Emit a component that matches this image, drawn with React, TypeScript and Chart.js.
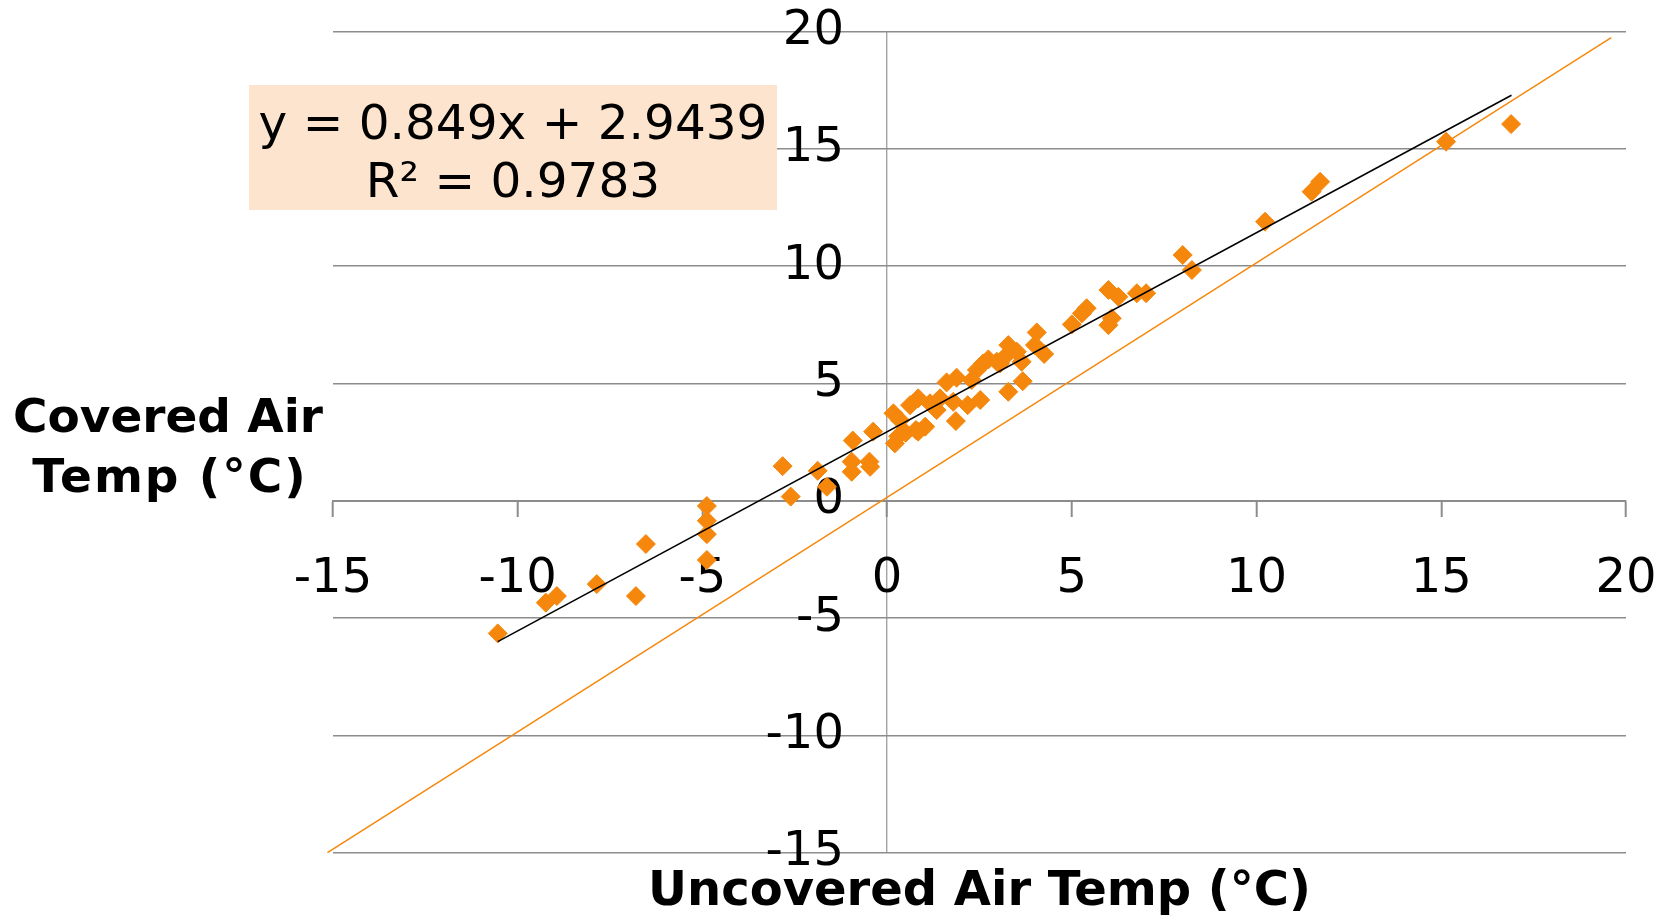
import React, { useEffect, useRef } from 'react';
import { Chart, registerables } from 'chart.js';

Chart.register(...registerables);

// ---- data ----
const uncoveredTemp = [
  -10.54, -9.24, -8.94, -7.86, -6.8, -6.53, -4.88, -4.88, -4.88, -4.88,
  -2.83, -2.61, -1.88, -1.63, -0.93, -0.96, -0.96, -0.38, -0.48, -0.46,
  0.17, 0.21, 0.35, 0.3, 0.62, 0.84, 0.5, 0.78, 1.03, 1.16,
  1.34, 1.43, 1.61, 1.88, 1.86, 1.79, 2.18, 2.52, 2.29, 2.43,
  2.6, 2.74, 2.97, 3.19, 3.28, 3.51, 3.64, 3.28, 3.67, 4.05,
  4.0, 4.25, 5.0, 5.27, 5.4, 5.99, 6.26, 5.99, 6.08, 6.76,
  7.01, 8.0, 8.25, 10.23, 11.49, 11.72, 15.13, 16.89, 3.06, 0.84,
];
const coveredTemp = [
  -5.65, -4.34, -4.06, -3.55, -4.06, -1.84, -0.22, -0.85, -1.42, -2.52,
  1.48, 0.18, 1.28, 0.6, 2.57, 1.67, 1.24, 2.95, 1.67, 1.45,
  3.73, 2.45, 3.44, 2.75, 4.08, 4.37, 2.9, 3.02, 3.16, 4.16,
  3.87, 4.37, 5.05, 5.25, 3.4, 4.22, 4.08, 4.3, 5.15, 5.58,
  5.86, 6.03, 5.93, 6.14, 6.64, 6.36, 5.93, 4.65, 5.1, 7.18,
  6.64, 6.26, 7.52, 7.99, 8.21, 8.99, 8.7, 7.49, 7.78, 8.85,
  8.85, 10.48, 9.84, 11.9, 13.18, 13.6, 15.31, 16.06, 5.86, 2.95,
];
const trendX = [-10.54, 16.9];
const trendY = [-6.0, 17.29];
const oneToOneX = [-15.15, 19.6];
const oneToOneY = [-15, 19.75];
const axisMin = -15;
const axisMax = 20;
const axisStep = 5;
const equationLines = ['y = 0.849x + 2.9439', 'R² = 0.9783'];
const xTitle = 'Uncovered Air Temp (°C)';
const yTitleLines = ['Covered Air', 'Temp (°C)'];

const ORANGE = '#f5870c';
const GRID = '#8c8c8c';
const AXIS_V = '#a3a3a3';
const BOX = '#fce4ce';
const FONT = '"DejaVu Sans", Verdana, sans-serif';

const zeroPad = (scale: any) => {
  scale.paddingLeft = 0;
  scale.paddingRight = 0;
  scale.paddingTop = 0;
  scale.paddingBottom = 0;
};

const textPlugin = {
  id: 'textPlugin',
  afterDraw(chart: any) {
    const { ctx, chartArea } = chart;
    ctx.save();
    // regression equation box
    ctx.fillStyle = BOX;
    ctx.fillRect(249, 85, 528, 125);
    ctx.fillStyle = '#000';
    ctx.textAlign = 'center';
    ctx.textBaseline = 'alphabetic';
    ctx.font = `48.5px ${FONT}`;
    ctx.fillText(equationLines[0], 513, 138.5);
    ctx.fillText(equationLines[1], 513, 196.7);
    // axis titles
    ctx.font = `bold 48px ${FONT}`;
    ctx.fillText(xTitle, (chartArea.left + chartArea.right) / 2, chartArea.bottom + 52.5);
    ctx.font = `bold 47px ${FONT}`;
    ctx.fillText(yTitleLines[0], 168, 431.7);
    (ctx as any).letterSpacing = '2px';
    ctx.fillText(yTitleLines[1], 170, 491.7);
    ctx.restore();
  },
};

export default function App() {
  const ref = useRef<HTMLCanvasElement>(null);
  useEffect(() => {
    if (!ref.current) return;
    const tickFont = { family: FONT, size: 48 };
    const chart = new Chart(ref.current, {
      type: 'scatter',
      data: {
        datasets: [
          {
            label: 'Trendline',
            data: trendX.map((x, i) => ({ x, y: trendY[i] })),
            showLine: true,
            borderColor: '#000',
            borderWidth: 1.6,
            pointRadius: 0,
            order: 0,
          },
          {
            label: '1:1',
            data: oneToOneX.map((x, i) => ({ x, y: oneToOneY[i] })),
            showLine: true,
            borderColor: ORANGE,
            borderWidth: 1.5,
            pointRadius: 0,
            clip: false,
            order: 1,
          },
          {
            label: 'Air temp',
            data: uncoveredTemp.map((x, i) => ({ x, y: coveredTemp[i] })),
            pointStyle: 'rectRot',
            pointRadius: 9.5,
            backgroundColor: ORANGE,
            borderColor: ORANGE,
            borderWidth: 1,
            order: 2,
          },
        ],
      } as any,
      options: {
        animation: false,
        responsive: true,
        maintainAspectRatio: false,
        events: [],
        layout: { padding: { left: 333, top: 31.7, right: 44, bottom: 63.3 } },
        plugins: { legend: { display: false }, tooltip: { enabled: false } },
        scales: {
          x: {
            type: 'linear',
            position: { y: 0 } as any,
            min: axisMin,
            max: axisMax,
            ticks: { stepSize: axisStep, font: tickFont, color: '#000', padding: 35, maxRotation: 0, autoSkip: false },
            grid: {
              drawOnChartArea: true,
              color: (c: any) => (c.tick && c.tick.value === 0 ? AXIS_V : 'rgba(0,0,0,0)'),
              lineWidth: 1.4,
              drawTicks: true,
              tickLength: 15,
              tickColor: GRID,
              tickWidth: 2,
            },
            border: { display: true, color: GRID, width: 2 },
            afterFit: zeroPad,
          },
          y: {
            type: 'linear',
            // labels sit just left of the vertical axis at x = 0
            position: { x: -1.17 } as any,
            min: axisMin,
            max: axisMax,
            ticks: { stepSize: axisStep, font: tickFont, color: '#000', padding: 0, autoSkip: false },
            grid: { color: GRID, lineWidth: 1.6, drawTicks: false },
            border: { display: false },
            afterFit: zeroPad,
          },
        },
      } as any,
      plugins: [textPlugin],
    });
    return () => chart.destroy();
  }, []);
  return (
    <div style={{ position: 'fixed', left: 0, top: 0, width: 1670, height: 916, background: '#fff' }}>
      <canvas ref={ref} />
    </div>
  );
}
